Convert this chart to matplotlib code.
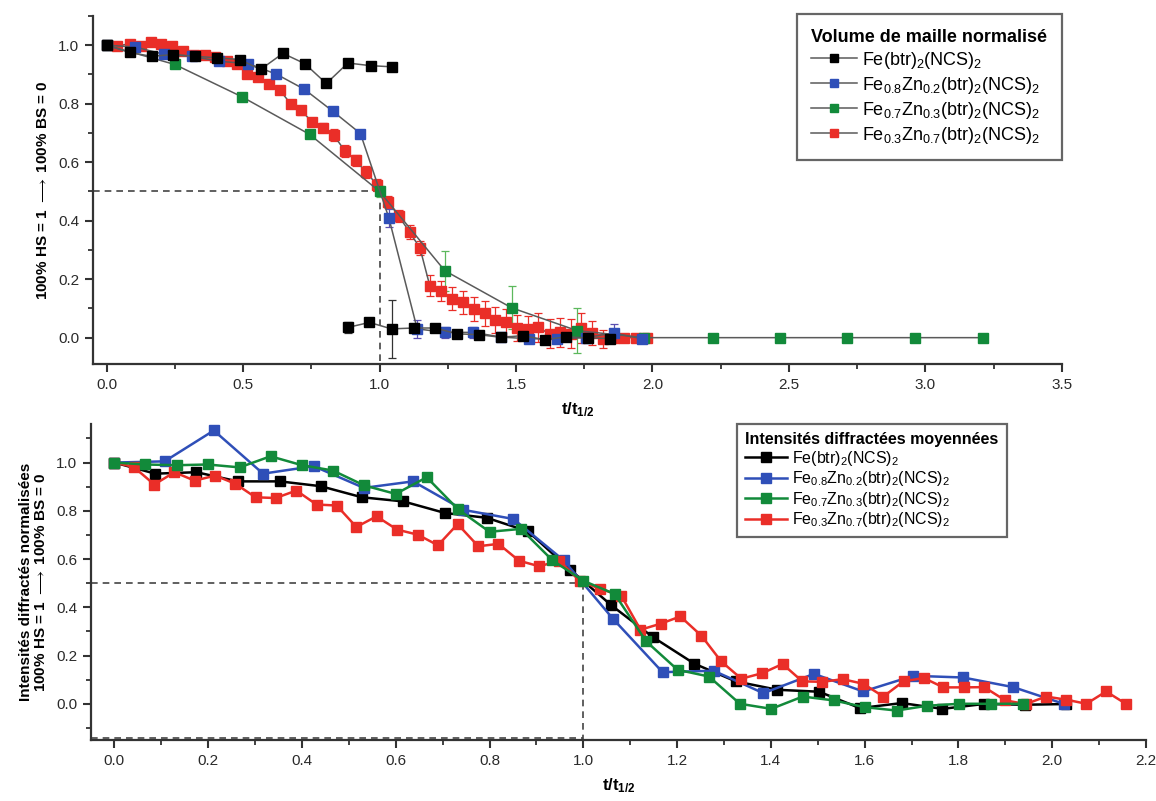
# two-panel plot: normalized cell volume (top) and mean diffracted intensities (bottom)
import matplotlib
matplotlib.use("Agg")
import matplotlib.pyplot as plt
from matplotlib.ticker import MultipleLocator

plt.rcParams['font.family'] = ['Liberation Sans', 'DejaVu Sans']
plt.rcParams['mathtext.fontset'] = 'custom'
plt.rcParams['mathtext.rm'] = 'Liberation Sans'
plt.rcParams['mathtext.it'] = 'Liberation Sans:italic'
plt.rcParams['mathtext.bf'] = 'Liberation Sans:bold'

labels = [r'Fe(btr)$_2$(NCS)$_2$',
          r'Fe$_{0.8}$Zn$_{0.2}$(btr)$_2$(NCS)$_2$',
          r'Fe$_{0.7}$Zn$_{0.3}$(btr)$_2$(NCS)$_2$',
          r'Fe$_{0.3}$Zn$_{0.7}$(btr)$_2$(NCS)$_2$']

# ---- top panel : volume de maille normalise ----
fe_hi_t = [0.0, 0.084, 0.165, 0.245, 0.323, 0.405, 0.487, 0.564, 0.646, 0.726, 0.805, 0.884, 0.967, 1.047]
fe_hi_v = [1.0, 0.975, 0.962, 0.968, 0.962, 0.957, 0.951, 0.917, 0.972, 0.937, 0.869, 0.939, 0.930, 0.926]

fe_lo_t = [0.884, 0.963, 1.044, 1.126, 1.203, 1.285, 1.366, 1.446, 1.525, 1.605, 1.684, 1.763, 1.846]
fe_lo_v = [0.035, 0.052, 0.030, 0.033, 0.033, 0.013, 0.010, 0.001, 0.007, -0.007, 0.003, -0.001, -0.003]
fe_lo_err = [0.02, 0.01, 0.10, 0.01, 0.01, 0.005, 0.005, 0.005, 0.005, 0.005, 0.005, 0.005, 0.01]

zn2_t = [0.0, 0.104, 0.210, 0.314, 0.411, 0.519, 0.622, 0.725, 0.829, 0.930, 1.034, 1.138, 1.239, 1.343,
         1.446, 1.549, 1.651, 1.755, 1.858, 1.962]
zn2_v = [1.0, 0.994, 0.969, 0.962, 0.945, 0.937, 0.901, 0.849, 0.774, 0.698, 0.410, 0.030, 0.018, 0.018,
         0.002, -0.004, -0.004, 0.0, 0.016, -0.004]
zn2_err = [0, 0, 0, 0, 0, 0, 0, 0, 0, 0, 0.03, 0.03, 0.02, 0.02, 0.01, 0.01, 0.01, 0.01, 0.03, 0.0]

zn3_t = [0.0, 0.250, 0.497, 0.744, 1.0, 1.239, 1.484, 1.724, 1.970, 2.222, 2.469, 2.713, 2.961, 3.210]
zn3_v = [1.0, 0.934, 0.823, 0.695, 0.5, 0.229, 0.102, 0.024, 0.0, 0.0, 0.0, 0.0, 0.0, 0.0]
zn3_err = [0, 0, 0, 0.01, 0.02, 0.068, 0.073, 0.076, 0, 0, 0, 0, 0, 0]

zn7_t = [0.0, 0.039, 0.084, 0.125, 0.161, 0.200, 0.241, 0.281, 0.320, 0.360, 0.399, 0.440, 0.476, 0.515,
         0.556, 0.595, 0.635, 0.674, 0.713, 0.753, 0.794, 0.833, 0.873, 0.912, 0.951, 0.992, 1.031, 1.071,
         1.110, 1.148, 1.184, 1.226, 1.266, 1.307, 1.345, 1.385, 1.422, 1.462, 1.504, 1.543, 1.581, 1.623,
         1.660, 1.700, 1.739, 1.779, 1.819, 1.858, 1.897, 1.938, 1.981]
zn7_v = [1.0, 0.997, 1.005, 0.997, 1.011, 1.003, 0.997, 0.979, 0.968, 0.966, 0.960, 0.945, 0.937, 0.903,
         0.891, 0.866, 0.846, 0.800, 0.777, 0.737, 0.718, 0.692, 0.638, 0.606, 0.566, 0.521, 0.465, 0.415,
         0.361, 0.307, 0.178, 0.159, 0.133, 0.121, 0.098, 0.083, 0.061, 0.052, 0.033, 0.030, 0.035, 0.013,
         0.018, 0.013, 0.033, 0.016, -0.004, 0.0, 0.0, 0.0, 0.0]
zn7_err = [0, 0, 0, 0, 0, 0, 0, 0, 0, 0, 0, 0, 0, 0,
           0, 0, 0, 0, 0.015, 0.015, 0.015, 0.02, 0.02, 0.02, 0.02, 0.02, 0.02, 0.02,
           0.025, 0.025, 0.035, 0.035, 0.04, 0.04, 0.042, 0.042, 0.045, 0.045, 0.045, 0.045, 0.05, 0.05,
           0.05, 0.05, 0.05, 0.04, 0.03, 0, 0, 0, 0]

# ---- bottom panel : intensites diffractees moyennees ----
i_fe_t = [0.0, 0.087, 0.175, 0.263, 0.353, 0.440, 0.528, 0.616, 0.705, 0.794, 0.882, 0.972, 1.060, 1.148,
          1.237, 1.325, 1.414, 1.503, 1.590, 1.679, 1.766, 1.854, 1.942, 2.030]
i_fe_v = [1.0, 0.954, 0.960, 0.922, 0.922, 0.902, 0.856, 0.839, 0.791, 0.771, 0.715, 0.556, 0.408, 0.277,
          0.166, 0.093, 0.058, 0.050, -0.018, 0.003, -0.021, -0.001, -0.004, -0.001]

i_zn2_t = [0.0, 0.107, 0.212, 0.317, 0.425, 0.532, 0.637, 0.744, 0.851, 0.958, 1.063, 1.169, 1.278, 1.384,
           1.492, 1.597, 1.704, 1.810, 1.917, 2.026]
i_zn2_v = [1.0, 1.005, 1.133, 0.954, 0.985, 0.895, 0.922, 0.804, 0.766, 0.595, 0.353, 0.131, 0.137, 0.044,
           0.124, 0.051, 0.116, 0.109, 0.069, -0.001]

i_zn3_t = [0.0, 0.066, 0.133, 0.199, 0.267, 0.333, 0.400, 0.466, 0.533, 0.600, 0.666, 0.733, 0.800, 0.867,
           0.934, 1.0, 1.067, 1.134, 1.201, 1.268, 1.334, 1.401, 1.468, 1.534, 1.600, 1.668, 1.734, 1.802,
           1.870, 1.937]
i_zn3_v = [1.0, 0.992, 0.989, 0.992, 0.980, 1.026, 0.989, 0.967, 0.905, 0.870, 0.939, 0.806, 0.713, 0.725,
           0.595, 0.510, 0.455, 0.259, 0.141, 0.113, 0.0, -0.021, 0.030, 0.014, -0.014, -0.028, -0.008, 0.0,
           0.0, 0.0]

i_zn7_t = [0.0, 0.041, 0.085, 0.128, 0.171, 0.215, 0.258, 0.301, 0.344, 0.388, 0.431, 0.474, 0.516, 0.559,
           0.603, 0.647, 0.690, 0.732, 0.776, 0.819, 0.863, 0.906, 0.949, 0.992, 1.035, 1.081, 1.122, 1.165,
           1.207, 1.252, 1.294, 1.337, 1.382, 1.425, 1.467, 1.510, 1.553, 1.597, 1.640, 1.683, 1.726, 1.768,
           1.811, 1.855, 1.900, 1.944, 1.987, 2.030, 2.073, 2.115, 2.158]
i_zn7_v = [1.0, 0.982, 0.909, 0.960, 0.925, 0.946, 0.912, 0.856, 0.853, 0.884, 0.826, 0.822, 0.733, 0.777,
           0.722, 0.701, 0.657, 0.745, 0.653, 0.663, 0.593, 0.570, 0.593, 0.510, 0.477, 0.448, 0.307, 0.332,
           0.362, 0.282, 0.176, 0.104, 0.127, 0.165, 0.093, 0.091, 0.102, 0.083, 0.030, 0.093, 0.107, 0.068,
           0.068, 0.069, 0.014, -0.001, 0.030, 0.017, 0.0, 0.051, -0.001]

c_black = '#000000'
c_blue = '#2f4fb8'
c_green = '#128a3a'
c_red = '#ea2e28'
line_gray = '#5a5a5a'
axis_col = '#333333'

fig = plt.figure(figsize=(11.56, 8.01), dpi=100)


def style_axes(ax):
    for s in ['top', 'right']:
        ax.spines[s].set_visible(False)
    for s in ['left', 'bottom']:
        ax.spines[s].set_linewidth(1.6)
        ax.spines[s].set_color(axis_col)
    ax.tick_params(which='major', direction='out', length=6, width=1.5, colors=axis_col,
                   labelsize=11, labelcolor='#2a2a2a', pad=4)
    ax.tick_params(which='minor', direction='out', length=3.5, width=1.3, colors=axis_col)


# ================= top =================
ax1 = fig.add_axes([0.0804, 0.5456, 0.8382, 0.4345])
style_axes(ax1)
ax1.set_xlim(-0.05, 3.5)
ax1.set_ylim(-0.09, 1.1)
ax1.xaxis.set_major_locator(MultipleLocator(0.5))
ax1.xaxis.set_minor_locator(MultipleLocator(0.25))
ax1.yaxis.set_major_locator(MultipleLocator(0.2))
ax1.yaxis.set_minor_locator(MultipleLocator(0.1))

ax1.plot([-0.05, 1.0], [0.5, 0.5], ls=(0, (4, 3)), color='#444444', lw=1.2, zorder=1)
ax1.plot([1.0, 1.0], [0.5, -0.09], ls=(0, (4, 3)), color='#444444', lw=1.2, zorder=1)

ms_top = 7
eb = dict(fmt='none', capsize=3, elinewidth=0.9, capthick=0.9, zorder=2)
ax1.errorbar(zn7_t, zn7_v, yerr=zn7_err, ecolor=c_red, **eb)
ax1.errorbar(zn3_t, zn3_v, yerr=zn3_err, ecolor='#5cb85c', **eb)
ax1.errorbar(zn2_t, zn2_v, yerr=zn2_err, ecolor='#5a4fb0', **eb)
ax1.errorbar(fe_lo_t, fe_lo_v, yerr=fe_lo_err, ecolor='#333333', **eb)

h_red, = ax1.plot(zn7_t, zn7_v, '-s', color=line_gray, lw=1.1, mfc=c_red, mec=c_red,
                  ms=ms_top, zorder=3)
h_green, = ax1.plot(zn3_t, zn3_v, '-s', color=line_gray, lw=1.1, mfc=c_green, mec=c_green,
                    ms=ms_top, zorder=4)
h_blue, = ax1.plot(zn2_t, zn2_v, '-s', color=line_gray, lw=1.1, mfc=c_blue, mec=c_blue,
                   ms=ms_top, zorder=5)
h_black, = ax1.plot(fe_hi_t, fe_hi_v, '-s', color=line_gray, lw=1.1, mfc=c_black, mec=c_black,
                    ms=ms_top, zorder=6)
ax1.plot(fe_lo_t, fe_lo_v, '-s', color=line_gray, lw=1.1, mfc=c_black, mec=c_black,
         ms=ms_top, zorder=6)

ax1.set_xlabel(r'$\mathbf{t/t_{1/2}}$', fontsize=12, labelpad=6)
ax1.set_ylabel(r'100% HS = 1 $\longrightarrow$ 100% BS = 0', fontsize=11,
               fontweight='bold', labelpad=6)

leg1 = ax1.legend([h_black, h_blue, h_green, h_red], labels, loc='upper right',
                  bbox_to_anchor=(1.0, 1.005), borderaxespad=0, fontsize=13,
                  title='Volume de maille normalisé', alignment='left',
                  title_fontproperties={'weight': 'bold', 'size': 13},
                  handlelength=2.5, handletextpad=0.3, labelspacing=0.22,
                  fancybox=False, framealpha=1, edgecolor='#666666', borderpad=0.8,
                  markerscale=0.85)
leg1.get_frame().set_linewidth(1.6)

# ================= bottom =================
ax2 = fig.add_axes([0.0787, 0.0762, 0.9126, 0.3945])
style_axes(ax2)
ax2.set_xlim(-0.05, 2.2)
ax2.set_ylim(-0.15, 1.16)
ax2.xaxis.set_major_locator(MultipleLocator(0.2))
ax2.xaxis.set_minor_locator(MultipleLocator(0.1))
ax2.yaxis.set_major_locator(MultipleLocator(0.2))
ax2.yaxis.set_minor_locator(MultipleLocator(0.1))

ax2.plot([-0.05, 1.0], [0.5, 0.5], ls=(0, (4, 3)), color='#444444', lw=1.2, zorder=1)
ax2.plot([1.0, 1.0], [0.5, -0.15], ls=(0, (4, 3)), color='#444444', lw=1.2, zorder=1)
ax2.plot([-0.05, 1.0], [-0.143, -0.143], ls=(0, (4, 3)), color='#444444', lw=1.2, zorder=1)

ms_bot = 7
b_black, = ax2.plot(i_fe_t, i_fe_v, '-s', color=c_black, lw=1.8, ms=ms_bot, zorder=3)
b_blue, = ax2.plot(i_zn2_t, i_zn2_v, '-s', color=c_blue, lw=1.8, ms=ms_bot, zorder=4)
b_red, = ax2.plot(i_zn7_t, i_zn7_v, '-s', color=c_red, lw=1.8, ms=ms_bot, zorder=5)
b_green, = ax2.plot(i_zn3_t, i_zn3_v, '-s', color=c_green, lw=1.8, ms=ms_bot, zorder=6)

ax2.set_xlabel(r'$\mathbf{t/t_{1/2}}$', fontsize=12, labelpad=6)
ax2.set_ylabel('Intensités diffractés normalisées\n100% HS = 1 $\\longrightarrow$ 100% BS = 0',
               fontsize=11, fontweight='bold', labelpad=6, linespacing=1.1)

leg2 = ax2.legend([b_black, b_blue, b_green, b_red], labels, loc='upper right',
                  bbox_to_anchor=(0.868, 1.0), borderaxespad=0, fontsize=11.5,
                  title='Intensités diffractées moyennées', alignment='left',
                  title_fontproperties={'weight': 'bold', 'size': 11.5},
                  handlelength=2.6, handletextpad=0.3, labelspacing=0.1,
                  fancybox=False, framealpha=1, edgecolor='#666666', borderpad=0.5)
leg2.get_frame().set_linewidth(1.6)

fig.savefig('out.png', dpi=100)
